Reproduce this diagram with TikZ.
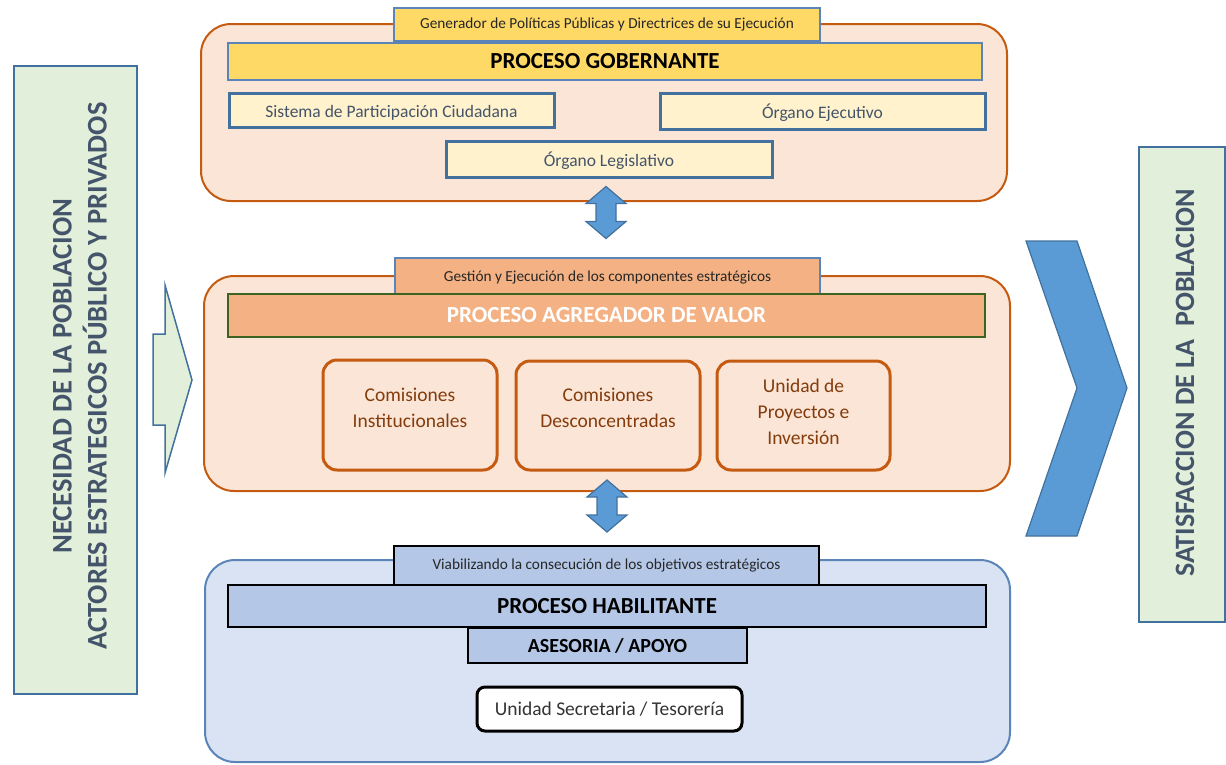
\documentclass[tikz,border=0pt]{standalone}
\usepackage{fontspec}
\setmainfont{Carlito}
\usetikzlibrary{calc}
\definecolor{peach}{HTML}{FBE5D6}
\definecolor{rust}{HTML}{C55A11}
\definecolor{brownTxt}{HTML}{843C0C}
\definecolor{gold}{HTML}{FFD966}
\definecolor{cream}{HTML}{FFF2CC}
\definecolor{salmon}{HTML}{F4B183}
\definecolor{paleBlue}{HTML}{DAE3F3}
\definecolor{midBlue}{HTML}{B4C7E7}
\definecolor{paleGreen}{HTML}{E2EFDA}
\definecolor{steel}{HTML}{41719C}
\definecolor{steelLight}{HTML}{5B84B8}
\definecolor{skyBlue}{HTML}{5B9BD5}
\definecolor{slateTxt}{HTML}{44546A}
\definecolor{darkGreen}{HTML}{3B6322}
\begin{document}
\begin{tikzpicture}[x=1pt,y=-1pt,
  base/.style={rectangle, inner sep=0pt, align=center},
  panel/.style={base, rounded corners=30, line width=2pt},
  tagbox/.style={base, draw=steelLight, line width=1.5pt, font=\fontsize{15.3}{17}\selectfont, text=black!85},
  barbox/.style={base, line width=1.5pt, font=\fontsize{23}{26}\selectfont\bfseries},
  unitbox/.style={base, draw=steel, fill=cream, line width=3pt},
  unittext/.style={base, font=\fontsize{17.5}{20}\selectfont, text=slateTxt},
  commbox/.style={base, draw=rust, fill=peach, line width=3pt, rounded corners=14},
  commtext/.style={base, font=\fontsize{19.5}{26}\selectfont, text=brownTxt},
  sidebox/.style={base, draw=steel, fill=paleGreen, line width=1.5pt},
  sidetext/.style={base, rotate=90, text=slateTxt, font=\fontsize{28.5}{35}\selectfont\bfseries},
  flow/.style={draw=steel, fill=skyBlue, line width=1.2pt, line join=miter},
]
\useasboundingbox (0,0) rectangle (1226,764);

% ---- side boxes ----
\node[sidebox, minimum width=123, minimum height=628] (need) at (75.5,380) {};
\node[sidetext] (needtxt) at (80,376) {NECESIDAD DE LA POBLACION\\ACTORES ESTRATEGICOS PÚBLICO Y PRIVADOS};
\node[sidebox, minimum width=86, minimum height=475] (sat) at (1182,384.5) {};
\node[sidetext, font=\fontsize{28}{30}\selectfont\bfseries] (sattxt) at (1185,383) {SATISFACCION DE LA \ POBLACION};

% ---- input arrow and output chevron ----
\coordinate (inArrow) at (153,379.5);
\draw[draw=steel, fill=paleGreen, line width=1.5pt, shift={(inArrow)}]
  (0,-45.5) -- (12,-45.5) -- (12,-94.5) -- (39,0.5) -- (12,93.5) -- (12,45.5) -- (0,45.5) -- cycle;
\coordinate (outArrow) at (1026,388);
\draw[flow, shift={(outArrow)}]
  (0,-147) -- (51,-147) -- (101,0) -- (51,148) -- (0,148) -- (51,0) -- cycle;

% ---- governing process ----
\node[panel, draw=rust, fill=peach, minimum width=806, minimum height=177] (gob) at (604,112.5) {};
\node[tagbox, fill=gold, minimum width=426, minimum height=33] (gobTag) at (607,24.5) {Generador de Políticas Públicas y Directrices de su Ejecución};
\node[barbox, draw=steelLight, fill=gold, minimum width=754, minimum height=37] (gobBar) at (605,61.5) {PROCESO GOBERNANTE};
\node[unitbox, minimum width=325, minimum height=34] (sis) at (391.5,110) {};
\node[unittext] (sisT) at (391.5,113) {Sistema de Participación Ciudadana};
\node[unitbox, minimum width=325, minimum height=36] (eje) at (822.5,111) {};
\node[unittext] (ejeT) at (822.5,113) {Órgano Ejecutivo};
\node[unitbox, minimum width=326, minimum height=36] (leg) at (609,159) {};
\node[unittext] (legT) at (609,161) {Órgano Legislativo};

% ---- value-adding process ----
\node[panel, draw=rust, fill=peach, minimum width=806, minimum height=215] (agr) at (607,383.5) {};
\node[tagbox, fill=salmon, minimum width=425, minimum height=38] (agrTag) at (607.5,277) {Gestión y Ejecución de los componentes estratégicos};
\node[barbox, draw=darkGreen, fill=salmon, text=white, minimum width=757, minimum height=43] (agrBar) at (606.5,315.5) {PROCESO AGREGADOR DE VALOR};
\node[commbox, minimum width=174, minimum height=110] (c1) at (410,415) {};
\node[commtext] (c1T) at (410,408) {Comisiones\\Institucionales};
\node[commbox, minimum width=184, minimum height=109] (c2) at (608,415.5) {};
\node[commtext] (c2T) at (608,408) {Comisiones\\Desconcentradas};
\node[commbox, minimum width=173, minimum height=109] (c3) at (803.5,415.5) {};
\node[commtext] (c3T) at (803.5,411.5) {Unidad de\\Proyectos e\\Inversión};

% ---- enabling process ----
\node[panel, draw=steelLight, fill=paleBlue, minimum width=805, minimum height=202] (hab) at (607.5,661) {};
\node[tagbox, draw=black, fill=midBlue, minimum width=425, minimum height=39] (habTag) at (606.5,565.5) {Viabilizando la consecución de los objetivos estratégicos};
\node[barbox, draw=black, fill=midBlue, minimum width=758, minimum height=42] (habBar) at (607,606) {PROCESO HABILITANTE};
\node[barbox, draw=black, fill=midBlue, minimum width=279, minimum height=35, font=\fontsize{20}{22}\selectfont\bfseries] (ase) at (607.5,645.5) {ASESORIA / APOYO};
\node[base, draw=black, fill=white, line width=3pt, rounded corners=8, minimum width=265, minimum height=44, font=\fontsize{19.5}{22}\selectfont, text=black!80] (sec) at (609.5,709) {Unidad Secretaria / Tesorería};

% ---- links between the processes ----
\coordinate (link1) at ($(gob.south)+(2,10.5)$);
\coordinate (link2) at ($(agr.south)+(0,14)$);
\foreach \c in {link1,link2}{
  \draw[flow, shift={(\c)}]
    (0,-26) -- (20,-9) -- (10,-9) -- (10,9) -- (20,9) -- (0,26) -- (-20,9) -- (-10,9) -- (-10,-9) -- (-20,-9) -- cycle;
}
\end{tikzpicture}
\end{document}
